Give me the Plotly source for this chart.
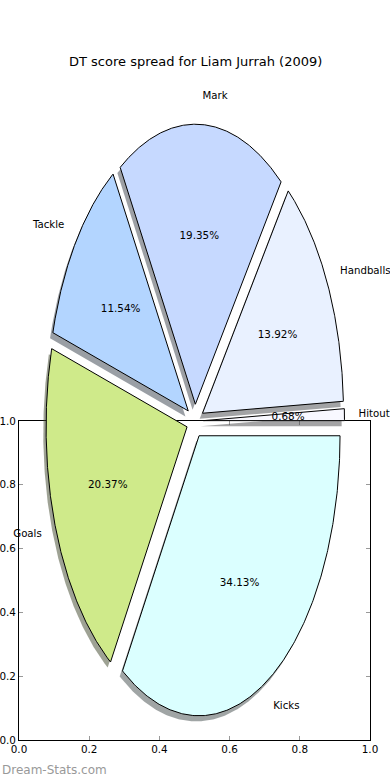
import numpy as np
import plotly.graph_objects as go

# ---- data ----
labels = ["Hitout", "Handballs", "Mark", "Tackle", "Goals", "Kicks"]
shares = [0.68, 13.92, 19.35, 11.54, 20.37, 34.13]
colors = ["#f8f8ff", "#e9f1ff", "#c6d9ff", "#b3d5ff", "#cfea8a", "#dbffff"]
explode = [0.06, 0.06, 0.06, 0.06, 0.06, 0.06]
title = "DT score spread for Liam Jurrah (2009)"
tick_vals = [0.0, 0.2, 0.4, 0.6, 0.8, 1.0]

# ---- layout geometry (pixels) ----
W, H = 390, 780
CX, CY, RX, RY = 195.0, 421.0, 141.0, 280.0   # pie centre / radii on screen
FX0, FX1, FY0, FY1 = 19, 370, 421, 740         # stray axes box
FONT = "DejaVu Sans"

vals = np.array(shares, dtype=float)
frac = vals / vals.sum()
edges = np.concatenate([[0.0], np.cumsum(frac)]) * 360.0


def hex_rgb(h):
    h = h.lstrip("#")
    return [int(h[i:i + 2], 16) for i in (0, 2, 4)]


fig = go.Figure()

wedges = []
for i in range(len(labels)):
    t1, t2 = edges[i], edges[i + 1]
    mid = np.deg2rad((t1 + t2) / 2)
    ox, oy = explode[i] * np.cos(mid), explode[i] * np.sin(mid)
    t = np.deg2rad(np.linspace(t1, t2, 240))
    xs = np.concatenate([[ox], ox + np.cos(t), [ox]])
    ys = np.concatenate([[oy], oy + np.sin(t), [oy]])
    wedges.append((xs, ys, mid, ox, oy))

# shadows first (below all wedges)
for i, (xs, ys, mid, ox, oy) in enumerate(wedges):
    r, g, b = hex_rgb(colors[i])
    fig.add_trace(go.Scatter(
        x=xs - 0.02, y=ys - 0.02, xaxis="x2", yaxis="y2",
        mode="lines", fill="toself", line=dict(width=0, color="rgba(0,0,0,0)"),
        fillcolor=f"rgba({int(r*0.3)},{int(g*0.3)},{int(b*0.3)},0.5)",
        hoverinfo="skip", showlegend=False))

for i, (xs, ys, mid, ox, oy) in enumerate(wedges):
    fig.add_trace(go.Scatter(
        x=xs, y=ys, xaxis="x2", yaxis="y2",
        mode="lines", fill="toself", line=dict(width=1, color="black"),
        fillcolor=colors[i], name=labels[i], hoverinfo="name",
        showlegend=False))

# labels and percentages
lx, ly, lpos, px, py, ptxt = [], [], [], [], [], []
for i, (xs, ys, mid, ox, oy) in enumerate(wedges):
    x = ox + 1.1 * np.cos(mid)
    y = oy + 1.1 * np.sin(mid)
    lx.append(x)
    ly.append(y)
    lpos.append("middle right" if x > 0 else "middle left")
    px.append(ox + 0.6 * np.cos(mid))
    py.append(oy + 0.6 * np.sin(mid))
    ptxt.append("%1.2f%%" % (frac[i] * 100))

fig.add_trace(go.Scatter(
    x=lx, y=ly, xaxis="x2", yaxis="y2", mode="text", text=labels,
    textposition=lpos, textfont=dict(family=FONT, size=10.2, color="black"),
    hoverinfo="skip", showlegend=False))
fig.add_trace(go.Scatter(
    x=px, y=py, xaxis="x2", yaxis="y2", mode="text", text=ptxt,
    textposition="middle center", textfont=dict(family=FONT, size=10.4, color="black"),
    hoverinfo="skip", showlegend=False))

# invisible axis trace for the frame axes
fig.add_trace(go.Scatter(x=[0, 1], y=[0, 1], mode="markers",
                         marker=dict(opacity=0), hoverinfo="skip", showlegend=False))

fig.update_layout(
    width=W, height=H, margin=dict(l=0, r=0, t=0, b=0, autoexpand=False),
    paper_bgcolor="white", plot_bgcolor="rgba(0,0,0,0)",
    xaxis=dict(domain=[FX0 / W, FX1 / W], range=[0, 1], anchor="y", automargin=False,
               showline=True, linecolor="black", linewidth=1, mirror="ticks",
               ticks="inside", ticklen=4, tickcolor="#999999", tickwidth=1,
               tickvals=tick_vals, tickformat=".1f", showgrid=False, zeroline=False,
               tickfont=dict(family=FONT, size=10.4, color="black")),
    yaxis=dict(domain=[(H - FY1) / H, (H - FY0) / H], range=[0, 1], anchor="x",
               automargin=False,
               showline=True, linecolor="black", linewidth=1, mirror="ticks",
               ticks="inside", ticklen=4, tickcolor="#999999", tickwidth=1,
               tickvals=tick_vals, tickformat=".1f", showgrid=False, zeroline=False,
               tickfont=dict(family=FONT, size=10.4, color="black")),
    xaxis2=dict(domain=[0, 1], range=[(0 - CX) / RX, (W - CX) / RX], anchor="y2",
                visible=False, fixedrange=True, automargin=False),
    yaxis2=dict(domain=[0, 1], range=[(CY - H) / RY, CY / RY], anchor="x2",
                visible=False, fixedrange=True, automargin=False),
    annotations=[
        dict(text=title, xref="paper", yref="paper", x=0.5, y=(H - 61) / H,
             xanchor="center", yanchor="middle", showarrow=False,
             font=dict(family=FONT, size=13, color="black")),
        dict(text="Dream-Stats.com", xref="paper", yref="paper", x=0, y=(H - 770) / H,
             xanchor="left", yanchor="middle", showarrow=False,
             font=dict(family=FONT, size=12, color="#999999")),
    ],
)

fig.write_html("out.html", config={"displayModeBar": False},
               post_script="document.body.style.margin='0';document.body.style.overflow='hidden';")
